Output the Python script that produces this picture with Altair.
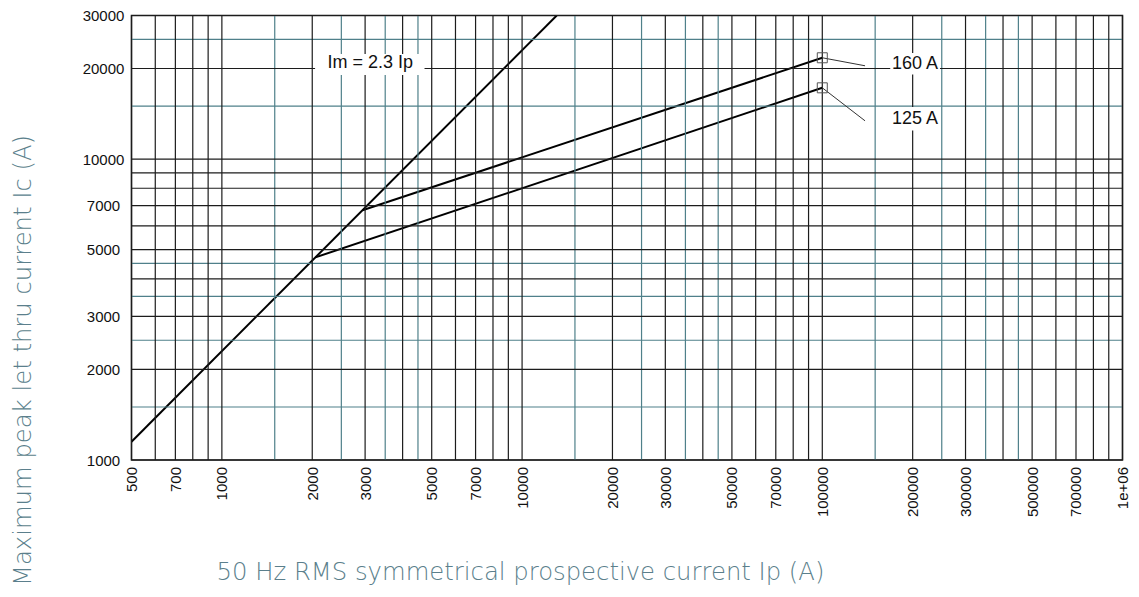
import altair as alt
import pandas as pd

# ---- data ----
x_tick_labels = [500, 700, 1000, 2000, 3000, 5000, 7000, 10000, 20000, 30000,
                 50000, 70000, 100000, 200000, 300000, 500000, 700000, 1000000]
y_tick_labels = [1000, 2000, 3000, 5000, 7000, 10000, 20000, 30000]

x_grid_major = [500, 600, 700, 800, 900,
                1000, 2000, 3000, 4000, 5000, 6000, 7000, 8000, 9000,
                10000, 20000, 30000, 40000, 50000, 60000, 70000, 80000, 90000,
                100000, 200000, 300000, 400000, 500000, 600000, 700000, 800000, 900000,
                1000000]
x_grid_minor = [1500, 2500, 3500, 4500,
                15000, 25000, 35000, 45000,
                150000, 250000, 350000, 450000]
y_grid_major = [1000, 2000, 3000, 4000, 5000, 6000, 7000, 8000, 9000,
                10000, 20000, 30000]
y_grid_minor = [1500, 2500, 3500, 4500, 15000, 25000]

# curves (Ip, Ic)
im_x = [500, 13043]
im_y = [1150, 30000]
a160_x = [2940, 100000]
a160_y = [6760, 21710]
a125_x = [2050, 100000]
a125_y = [4715, 17250]

# annotations
label_text = ["Im = 2.3 Ip", "160 A", "125 A"]
label_x = [3123, 203700, 203700]
label_y = [20800, 20740, 13590]
box_x1 = [2044, 168400, 168400]
box_x2 = [4732, 246600, 246600]
box_y1 = [22335, 22500, 14900]
box_y2 = [19017, 19100, 12450]

marker_x = [100000, 100000]
marker_y = [21710, 17250]
leader_x2 = [138800, 138800]
leader_y2 = [20420, 13400]

# ---- frames ----
curves = pd.DataFrame({
    "ip": im_x + a160_x + a125_x,
    "ic": im_y + a160_y + a125_y,
    "curve": ["Im"] * 2 + ["160 A"] * 2 + ["125 A"] * 2,
})
labels = pd.DataFrame({"t": label_text, "ip": label_x, "ic": label_y,
                       "ip2": box_x2, "ic2": box_y2, "bx": box_x1, "by": box_y1})
leaders = pd.DataFrame({"ip": marker_x, "ic": marker_y, "ip2": leader_x2, "ic2": leader_y2})

xscale = alt.Scale(type="log", domain=[500, 1000000], nice=False)
yscale = alt.Scale(type="log", domain=[1000, 30000], nice=False)

BLACK_GRID = "#1c1c1c"
TEAL_GRID = "#4f808a"
TITLE_COLOR = "#5b7f8c"

XTITLE = "50 Hz RMS symmetrical prospective current Ip (A)"
YTITLE = "Maximum peak let thru current Ic (A)"

xaxis = alt.Axis(values=x_tick_labels,
                 labelExpr="datum.value >= 1000000 ? '1e+06' : format(datum.value, 'd')",
                 labelAngle=-90, labelPadding=6.5, labelFlush=False,
                 labelOverlap=False,
                 title=XTITLE,
                 titleX=388.5, titleY=119, titleAlign="center",
                 titleBaseline="alphabetic")
yaxis = alt.Axis(values=y_tick_labels, format="d", labelAlign="center",
                 labelPadding=28.5, labelOverlap=False,
                 title=YTITLE,
                 titleX=-101, titleY=344.5, titleAngle=270,
                 titleAlign="center", titleBaseline="alphabetic")


def X(field):
    return alt.X(field, type="quantitative", scale=xscale, axis=xaxis, title=XTITLE)


def Y(field):
    return alt.Y(field, type="quantitative", scale=yscale, axis=yaxis, title=YTITLE)


def vrules(vals, color):
    return alt.Chart(pd.DataFrame({"ip": vals})).mark_rule(
        color=color, strokeWidth=1.2).encode(x=X("ip"))


def hrules(vals, color):
    return alt.Chart(pd.DataFrame({"ic": vals})).mark_rule(
        color=color, strokeWidth=1.2).encode(y=Y("ic"))


lines = alt.Chart(curves).mark_line(color="black", strokeWidth=2, clip=True).encode(
    x=X("ip"), y=Y("ic"), detail="curve:N")

grid = vrules(x_grid_minor, TEAL_GRID) + hrules(y_grid_minor, TEAL_GRID) + \
    vrules(x_grid_major, BLACK_GRID) + hrules(y_grid_major, BLACK_GRID)

boxes = alt.Chart(labels).mark_rect(fill="white").encode(
    x=X("bx"), x2="ip2:Q", y=Y("by"), y2="ic2:Q")

leader_lines = alt.Chart(leaders).mark_rule(color="#333333", strokeWidth=1).encode(
    x=X("ip"), x2="ip2:Q", y=Y("ic"), y2="ic2:Q")

markers = alt.Chart(leaders).mark_point(shape="square", filled=False, size=100,
                                        color="#555555", strokeWidth=1, opacity=1).encode(
    x=X("ip"), y=Y("ic"))

texts = alt.Chart(labels).mark_text(font="Liberation Sans", fontSize=18, color="#111111",
                                    align="center", baseline="middle").encode(
    x=X("ip"), y=Y("ic"), text="t:N")

chart = alt.layer(lines, grid, boxes, leader_lines, markers, texts).properties(
    width=991, height=444.5,
    background="white",
    autosize=alt.AutoSizeParams(type="none"),
    padding={"left": 123.5, "top": 7.5, "right": 8.5, "bottom": 127},
).configure_view(
    stroke="#1a1a1a", strokeWidth=1.5
).configure_axis(
    grid=False, ticks=False, tickSize=0, domain=False,
    labelFont="Liberation Sans", labelFontSize=15, labelColor="#111111",
    titleFont="DejaVu Sans", titleFontWeight=300, titleFontSize=24.3, titleColor=TITLE_COLOR,
)

chart.save("out.html", embed_options={"renderer": "svg", "actions": False})
